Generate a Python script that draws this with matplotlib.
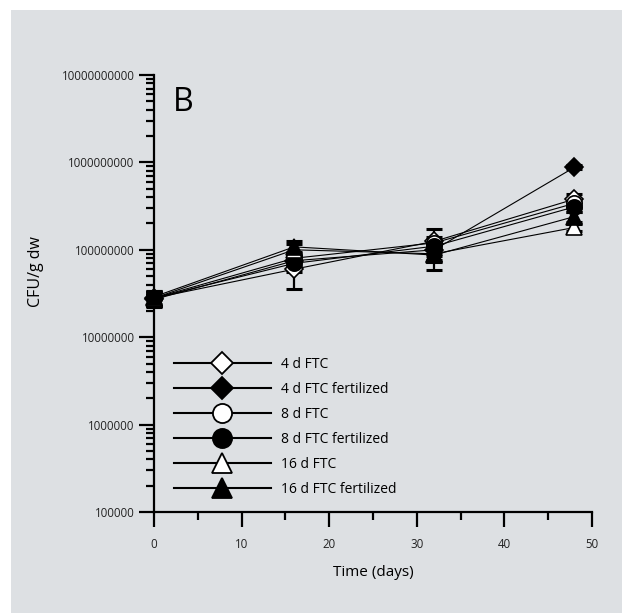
import matplotlib
matplotlib.use("Agg")
import matplotlib.pyplot as plt
from matplotlib.patches import Rectangle
from matplotlib.ticker import LogLocator, FixedLocator, NullFormatter, FuncFormatter
import numpy as np

plt.rcParams['font.family'] = ['Open Sans', 'DejaVu Sans']

# Sampling days
days = [0, 16, 32, 48]

# Series labels
labels = ["4 d FTC", "4 d FTC fertilized", "8 d FTC", "8 d FTC fertilized",
          "16 d FTC", "16 d FTC fertilized"]

# Mean CFU per g dry weight
ftc4 = [2.8e7, 6.0e7, 1.25e8, 3.8e8]
ftc4_fert = [2.7e7, 7.5e7, 1.0e8, 8.8e8]
ftc8 = [2.8e7, 8.0e7, 1.2e8, 3.4e8]
ftc8_fert = [2.8e7, 7.0e7, 1.1e8, 3.1e8]
ftc16 = [2.8e7, 1.0e8, 9.0e7, 1.8e8]
ftc16_fert = [2.9e7, 1.08e8, 8.7e7, 2.4e8]

# Standard deviations
ftc4_sd = [5e6, 2.4e7, 4.8e7, 6.0e7]
ftc4_fert_sd = [4e6, 1.2e7, 1.5e7, 5.0e7]
ftc8_sd = [5e6, 1.5e7, 2.0e7, 4.0e7]
ftc8_fert_sd = [6e6, 1.5e7, 2.0e7, 4.0e7]
ftc16_sd = [5e6, 1.5e7, 3.1e7, 1.6e7]
ftc16_fert_sd = [5e6, 1.7e7, 1.5e7, 3.0e7]

# Tick values
x_major = [0, 10, 20, 30, 40, 50]
y_major = [1e5, 1e6, 1e7, 1e8, 1e9, 1e10]

means = [ftc4, ftc4_fert, ftc8, ftc8_fert, ftc16, ftc16_fert]
sds = [ftc4_sd, ftc4_fert_sd, ftc8_sd, ftc8_fert_sd, ftc16_sd, ftc16_fert_sd]
markers = ["D", "D", "o", "o", "^", "^"]
filled = [False, True, False, True, False, True]
msizes = [9, 9, 11, 11, 11, 11]

BG = "#dde0e3"

fig = plt.figure(figsize=(6.22, 6.13), dpi=100)
fig.patch.set_facecolor("white")
fig.add_artist(Rectangle((11 / 622, 0), 1 - 11 / 622, 1 - 10 / 613,
                         transform=fig.transFigure, facecolor=BG,
                         edgecolor="none", zorder=-10))

ax = fig.add_axes([154 / 622, 1 - 512 / 613, 438 / 622, 437 / 613])
ax.set_facecolor("none")

handles = []
for m, s, mk, fl, ms, lab in zip(means, sds, markers, filled, msizes, labels):
    eb = ax.errorbar(days, m, yerr=s, fmt="none", ecolor="black", elinewidth=1.6,
                     capsize=6, capthick=2.2, zorder=2)
    for art in eb.lines[1] + eb.lines[2]:
        art.set_clip_on(False)
    ax.plot(days, m, color="black", lw=0.8, marker=mk, markersize=ms,
            markerfacecolor="black" if fl else "white",
            markeredgecolor="black", markeredgewidth=1.2, zorder=3,
            clip_on=False)
    h, = ax.plot([], [], color="black", lw=1.5, marker=mk,
                 markersize=ms * 1.25,
                 markerfacecolor="black" if fl else "white",
                 markeredgecolor="black", markeredgewidth=1.3)
    handles.append(h)

ax.set_yscale("log")
ax.set_xlim(0, 50)
ax.set_ylim(1e5, 1e10)

ax.xaxis.set_major_locator(FixedLocator(x_major))
ax.xaxis.set_minor_locator(FixedLocator([5, 15, 25, 35, 45]))
ax.yaxis.set_major_locator(FixedLocator(y_major))
ax.yaxis.set_minor_locator(LogLocator(base=10, subs=np.arange(2, 10), numticks=20))
ax.yaxis.set_minor_formatter(NullFormatter())
ax.yaxis.set_major_formatter(FuncFormatter(lambda v, p: f"{int(round(v))}"))

for side in ["top", "right"]:
    ax.spines[side].set_visible(False)
for side in ["left", "bottom"]:
    ax.spines[side].set_linewidth(1.6)

ax.tick_params(axis="both", which="major", direction="out", length=11,
               width=1.6, labelsize=8.3, colors="black", labelcolor="#222222")
ax.tick_params(axis="both", which="minor", direction="out", length=6,
               width=1.6)
ax.tick_params(axis="x", pad=8)
ax.tick_params(axis="y", pad=3)

ax.set_xlabel("Time (days)", fontsize=11, labelpad=10)
ax.set_ylabel("CFU/g dw", fontsize=11.5, labelpad=14)
ax.yaxis.set_label_coords(-0.25, 0.55)

ax.text(0.044, 0.975, "B", transform=ax.transAxes, fontsize=23,
        ha="left", va="top")

ax.legend(handles, labels, loc="upper left", bbox_to_anchor=(0.045, 0.355),
          frameon=False, fontsize=10, handlelength=7, handletextpad=0.75,
          labelspacing=0.72, borderpad=0, borderaxespad=0)

fig.savefig("out.png", dpi=100, facecolor=fig.get_facecolor())
